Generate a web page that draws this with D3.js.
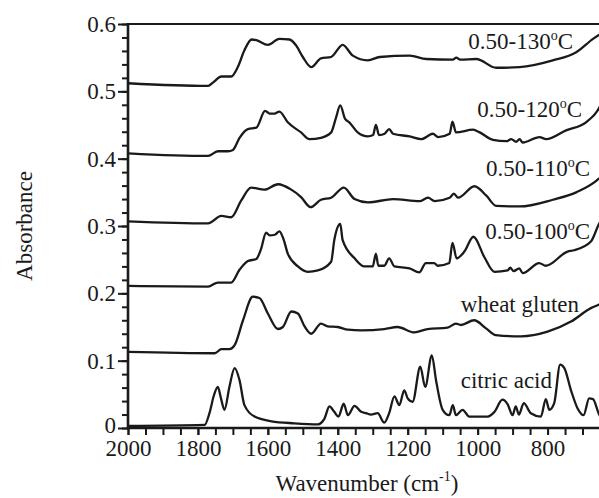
<!DOCTYPE html>
<html><head><meta charset="utf-8">
<script src="https://cdn.jsdelivr.net/npm/d3@7"></script>
<style>
html,body{margin:0;padding:0;background:#fff;}
svg{display:block;}
text{font-family:"Liberation Serif","Times New Roman",serif;fill:#1a1a1a;}
</style></head>
<body><svg id="chart" width="599" height="498"></svg>
<script>
// ---- data (wavenumber cm^-1, absorbance) ----
const wn130 = [2000,1771,1757,1733,1705,1686,1667,1646,1633,1600,1567,1538,1519,1500,1476,1448,1419,1386,1357,1314,1280,1194,1147,1071,1061,1050,1004,947,880,785,718,670,650];
const abs130 = [0.512,0.508,0.513,0.522,0.522,0.536,0.561,0.577,0.576,0.569,0.578,0.577,0.568,0.551,0.536,0.549,0.551,0.569,0.553,0.546,0.551,0.553,0.548,0.547,0.550,0.547,0.548,0.535,0.536,0.546,0.558,0.578,0.585];

const wn120 = [2000,1771,1743,1714,1700,1681,1657,1633,1608,1595,1581,1567,1543,1505,1481,1448,1419,1405,1393,1379,1367,1343,1314,1299,1291,1282,1266,1253,1242,1194,1161,1128,1113,1080,1072,1062,1013,994,956,918,904,890,880,871,823,804,747,690,654,650];
const abs120 = [0.408,0.404,0.411,0.411,0.413,0.431,0.444,0.446,0.471,0.467,0.467,0.470,0.454,0.439,0.429,0.431,0.439,0.461,0.479,0.459,0.454,0.439,0.433,0.435,0.450,0.435,0.437,0.444,0.437,0.433,0.429,0.437,0.432,0.437,0.455,0.439,0.443,0.439,0.428,0.426,0.429,0.425,0.429,0.424,0.432,0.429,0.442,0.454,0.474,0.478];

const wn110 = [2000,1771,1733,1705,1676,1648,1610,1571,1533,1505,1478,1448,1419,1383,1352,1314,1242,1166,1142,1123,1080,1068,1056,1009,975,947,880,785,718,654,650];
const abs110 = [0.307,0.304,0.315,0.313,0.338,0.357,0.354,0.362,0.354,0.343,0.328,0.339,0.342,0.357,0.340,0.335,0.340,0.337,0.342,0.337,0.342,0.348,0.342,0.359,0.345,0.330,0.329,0.339,0.350,0.370,0.372];

const wn100 = [2000,1771,1743,1705,1681,1657,1633,1620,1605,1595,1580,1567,1555,1543,1514,1486,1457,1419,1410,1393,1386,1352,1324,1300,1291,1284,1267,1253,1238,1195,1167,1148,1124,1114,1081,1072,1060,1038,1012,981,952,914,907,897,881,871,824,805,743,724,676,654,650];
const abs100 = [0.211,0.210,0.216,0.216,0.235,0.248,0.251,0.265,0.290,0.286,0.287,0.292,0.280,0.259,0.240,0.232,0.234,0.247,0.279,0.303,0.279,0.252,0.240,0.240,0.259,0.241,0.241,0.252,0.240,0.237,0.231,0.245,0.245,0.241,0.245,0.275,0.252,0.262,0.284,0.254,0.232,0.234,0.238,0.233,0.237,0.230,0.245,0.241,0.262,0.264,0.277,0.302,0.306];

const wnGluten = [2000,1752,1733,1710,1695,1671,1643,1624,1600,1571,1557,1533,1514,1495,1476,1448,1429,1400,1371,1333,1267,1229,1181,1143,1086,1062,1048,1010,976,948,876,800,733,676,654,650];
const absGluten = [0.113,0.111,0.117,0.117,0.123,0.160,0.195,0.193,0.170,0.147,0.150,0.173,0.170,0.151,0.140,0.155,0.151,0.150,0.146,0.145,0.147,0.150,0.142,0.147,0.149,0.155,0.153,0.160,0.148,0.138,0.136,0.143,0.158,0.178,0.183,0.184];

const wnCitric = [2000,1781,1767,1754,1743,1735,1724,1710,1695,1681,1667,1638,1590,1524,1457,1438,1424,1410,1398,1383,1371,1352,1333,1319,1305,1286,1267,1253,1238,1224,1210,1200,1186,1164,1150,1131,1119,1100,1081,1071,1062,1043,1024,971,952,929,914,900,891,882,868,848,819,805,795,781,764,752,733,714,697,681,670,654,650];
const absCitric = [0.003,0.0045,0.022,0.049,0.061,0.046,0.027,0.061,0.089,0.071,0.034,0.017,0.010,0.007,0.0055,0.014,0.032,0.024,0.017,0.036,0.019,0.033,0.024,0.022,0.020,0.022,0.008,0.022,0.047,0.034,0.056,0.044,0.039,0.091,0.061,0.108,0.071,0.027,0.019,0.034,0.019,0.027,0.017,0.017,0.024,0.042,0.035,0.019,0.032,0.020,0.037,0.022,0.017,0.043,0.027,0.037,0.094,0.089,0.056,0.029,0.019,0.044,0.043,0.022,0.018];

const seriesLabels = ["0.50-130", "0.50-120", "0.50-110", "0.50-100", "wheat gluten", "citric acid"];
const xTickLabels = [2000,1800,1600,1400,1200,1000,800];
const yTickLabels = [0,0.1,0.2,0.3,0.4,0.5,0.6];

// ---- layout ----
const svg = d3.select("#chart");
const mLeft = 128, mRight = 600, mTop = 24, mBottom = 428;
const x = d3.scaleLinear().domain([2000, 650]).range([mLeft, mRight]);
const y = d3.scaleLinear().domain([0, 0.6]).range([mBottom, mTop]);
const ink = "#1a1a1a";
const FS = 23;

const series = [
  {wn: wn130, ab: abs130, label: seriesLabels[0], deg: true, lx: 573, ly: 49},
  {wn: wn120, ab: abs120, label: seriesLabels[1], deg: true, lx: 582, ly: 117},
  {wn: wn110, ab: abs110, label: seriesLabels[2], deg: true, lx: 590, ly: 176},
  {wn: wn100, ab: abs100, label: seriesLabels[3], deg: true, lx: 590, ly: 239},
  {wn: wnGluten, ab: absGluten, label: seriesLabels[4], deg: false, lx: 579, ly: 312},
  {wn: wnCitric, ab: absCitric, label: seriesLabels[5], deg: false, lx: 552, ly: 388}
];

const line = d3.line().x(d => x(d[0])).y(d => y(d[1])).curve(d3.curveMonotoneX);

svg.append("defs").append("clipPath").attr("id","clip")
  .append("rect").attr("x", mLeft).attr("y", mTop).attr("width", mRight-mLeft).attr("height", mBottom-mTop);

const g = svg.append("g").attr("clip-path","url(#clip)");
series.forEach(s => {
  g.append("path")
    .datum(s.wn.map((w,i) => [w, s.ab[i]]))
    .attr("d", line)
    .attr("fill","none").attr("stroke", ink).attr("stroke-width", 2.3)
    .attr("stroke-linejoin","round");
});

// series labels
series.forEach(s => {
  const t = svg.append("text").attr("x", s.lx).attr("y", s.ly)
    .attr("text-anchor","end").attr("font-size", FS);
  t.append("tspan").text(s.label);
  if (s.deg) {
    t.append("tspan").attr("font-size", 14).attr("dy", -9).text("o");
    t.append("tspan").attr("dy", 9).text("C");
  }
});

// axes
const yMinor = d3.range(0, 0.6001, 0.02);
const xMinor = d3.range(2000, 699, -50);

const yAxisMinor = d3.axisLeft(y).tickValues(yMinor).tickSize(6).tickFormat("");
const yAxisMajor = d3.axisLeft(y).tickValues(yTickLabels).tickSize(10).tickPadding(2)
  .tickFormat(d => d === 0 ? "0" : d3.format(".1f")(d));
const xAxisMinor = d3.axisBottom(x).tickValues(xMinor).tickSize(7).tickFormat("");
const xAxisMajor = d3.axisBottom(x).tickValues(xTickLabels).tickSize(7).tickPadding(5)
  .tickFormat(d3.format("d"));

function style(sel){
  sel.select(".domain").remove();
  sel.selectAll(".tick line").attr("stroke", ink).attr("stroke-width", 2);
  sel.selectAll(".tick text").attr("font-size", FS).attr("fill", ink)
     .attr("font-family", '"Liberation Serif","Times New Roman",serif');
}
svg.append("g").attr("transform",`translate(${mLeft},0)`).call(yAxisMinor).call(style);
const yg = svg.append("g").attr("transform",`translate(${mLeft},0)`).call(yAxisMajor).call(style);
yg.selectAll(".tick text").filter(d => d === 0).attr("dy", "0.2em");
svg.append("g").attr("transform",`translate(0,${mBottom})`).call(xAxisMinor).call(style);
svg.append("g").attr("transform",`translate(0,${mBottom})`).call(xAxisMajor).call(style);

// frame lines
svg.append("line").attr("x1", mLeft).attr("x2", mRight).attr("y1", mTop).attr("y2", mTop)
  .attr("stroke", ink).attr("stroke-width", 2.2);
svg.append("line").attr("x1", mLeft).attr("x2", mLeft).attr("y1", mTop-1).attr("y2", mBottom+1.2)
  .attr("stroke", ink).attr("stroke-width", 2.6);
svg.append("line").attr("x1", mLeft-1).attr("x2", mRight).attr("y1", mBottom).attr("y2", mBottom)
  .attr("stroke", ink).attr("stroke-width", 2.6);

// axis titles
const xt = svg.append("text").attr("x", 367).attr("y", 491).attr("text-anchor","middle").attr("font-size", FS);
xt.append("tspan").text("Wavenumber (cm");
xt.append("tspan").attr("font-size", 14).attr("dy", -10).text("-1");
xt.append("tspan").attr("dy", 10).text(")");

svg.append("text").attr("transform","translate(32,226) rotate(-90)")
  .attr("text-anchor","middle").attr("font-size", FS).text("Absorbance");
</script>
</body></html>
